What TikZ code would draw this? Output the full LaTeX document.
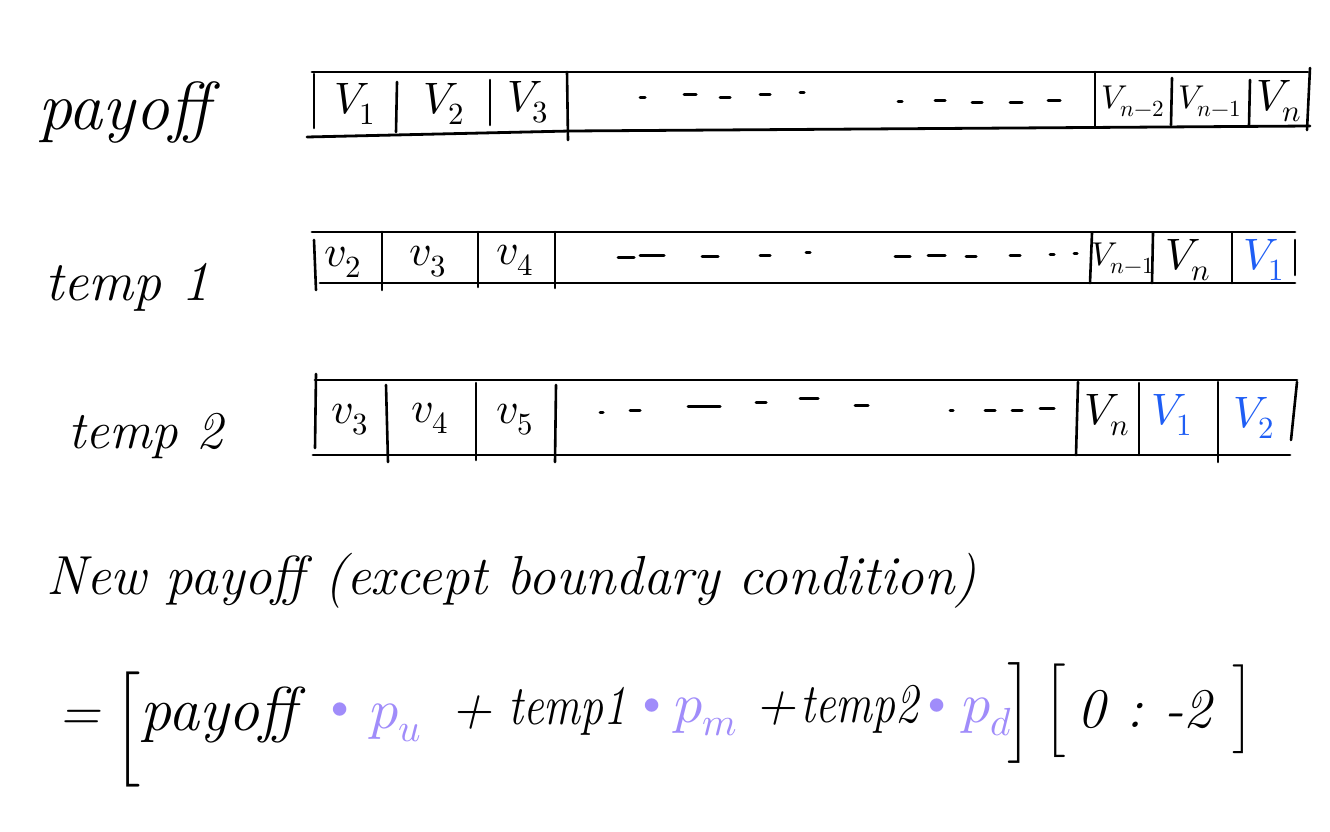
\documentclass[tikz,border=0pt]{standalone}
\usepackage{fontspec}
\usepackage{unicode-math}
\definecolor{vblue}{HTML}{1F5EF5}
\definecolor{ppl}{HTML}{A08CFA}
\tikzset{
  frame/.style={line width=2.8pt, line cap=round, line join=round},
  sep/.style={line width=2.6pt, line cap=round},
  dsh/.style={line width=3pt, line cap=round},
  cell/.style={font=\fontsize{44}{50}\selectfont, inner sep=0pt},
  cellsm/.style={font=\fontsize{33}{40}\selectfont, inner sep=0pt},
  lab/.style={font=\fontsize{58}{66}\selectfont\itshape, anchor=base west, inner sep=0pt},
  eqt/.style={font=\fontsize{56}{60}\selectfont\itshape, anchor=base west, inner sep=0pt},
  brk/.style={anchor=center, inner sep=0pt},
  dotp/.style={font=\fontsize{60}{60}\selectfont, text=ppl, anchor=center, inner sep=0pt},
}
\begin{document}
\begin{tikzpicture}[x=1pt,y=-1pt]
\useasboundingbox (0,0) rectangle (1330,832);
\fill[white] (0,0) rectangle (1330,832);

% ---------- left labels ----------
\node[lab, font=\fontsize{68}{72}\selectfont\itshape] (Lpay) at (38,130) {payoff};
\node[lab, font=\fontsize{56}{60}\selectfont\itshape] (Lt1) at (45,300) {temp 1};
\node[lab, font=\fontsize{53}{60}\selectfont\itshape] (Lt2) at (68,448) {temp 2};

% ---------- row 1 : payoff ----------
\draw[frame] (312,72) -- (1308,72);
\draw[frame] (307,137) -- (570,131) -- (1310,126);
\draw[sep] (314,74) -- (314,128);
\draw[sep] (397,82) -- (396,132);
\draw[sep] (490,80) -- (490,125);
\draw[sep] (567,72) -- (568,140);
\draw[sep] (1095,72) -- (1095,126);
\draw[sep] (1172,78) -- (1171,125);
\draw[sep] (1250,80) -- (1249,125);
\draw[sep] (1310,68) -- (1307,130);
\node[cell] (a1) at (355,104) {$V_1$};
\node[cell] (a2) at (444,104) {$V_2$};
\node[cell] (a3) at (528,102) {$V_3$};
\node[cellsm] (a4) at (1133,101) {$V_{n-2}$};
\node[cellsm] (a5) at (1210,101) {$V_{n-1}$};
\node[cell] (a6) at (1279,101) {$V_n$};
\foreach \a/\b/\y in {640/645/98, 684/696/95, 720/730/98, 760/770/95, 800/804/93,
                      898/902/102, 935/945/101, 972/982/103, 1010/1022/103, 1048/1060/101}
  \draw[dsh] (\a,\y) -- (\b,\y);

% ---------- row 2 : temp 1 ----------
\draw[frame] (312,232) -- (1295,232);
\draw[frame] (320,283) -- (1295,283);
\draw[sep] (314,240) -- (316,290);
\draw[sep] (382,232) -- (382,290);
\draw[sep] (478,232) -- (478,287);
\draw[sep] (555,232) -- (555,288);
\draw[sep] (1092,233) -- (1090,283);
\draw[sep] (1153,233) -- (1152,283);
\draw[sep] (1232,233) -- (1232,283);
\draw[sep] (1295,240) -- (1295,275);
\node[cell] (b1) at (343,262) {$v_2$};
\node[cell] (b2) at (428,262) {$v_3$};
\node[cell] (b3) at (515,260) {$v_4$};
\node[cellsm] (b4) at (1123,258) {$V_{n-1}$};
\node[cell] (b5) at (1188,260) {$V_n$};
\node[cell, text=vblue] (b6) at (1264,260) {$V_1$};
\foreach \a/\b/\y in {618/634/257, 640/664/255, 702/718/256, 760/770/255, 806/810/252,
                      895/910/256, 928/945/255, 966/976/256, 1010/1020/255, 1050/1054/254, 1074/1077/253}
  \draw[dsh] (\a,\y) -- (\b,\y);

% ---------- row 3 : temp 2 ----------
\draw[frame] (315,380) -- (1297,380);
\draw[frame] (313,455) -- (1290,455);
\draw[sep] (316,374) -- (315,448);
\draw[sep] (386,385) -- (388,462);
\draw[sep] (476,383) -- (476,460);
\draw[sep] (556,385) -- (555,462);
\draw[sep] (1078,382) -- (1076,455);
\draw[sep] (1139,383) -- (1139,455);
\draw[sep] (1218,382) -- (1218,462);
\draw[sep] (1297,382) -- (1291,440);
\node[cell] (c1) at (350,420) {$v_3$};
\node[cell] (c2) at (430,418) {$v_4$};
\node[cell] (c3) at (515,420) {$v_5$};
\node[cell] (c4) at (1107,415) {$V_n$};
\node[cell, text=vblue] (c5) at (1172,415) {$V_1$};
\node[cell, text=vblue] (c6) at (1254,418) {$V_2$};
\foreach \a/\b/\y in {600/603/412, 630/640/410, 688/720/406, 756/766/402, 800/818/398, 855/868/405,
                      950/953/410, 985/995/410, 1012/1022/410, 1040/1054/408}
  \draw[dsh] (\a,\y) -- (\b,\y);

% ---------- bottom text ----------
\node[lab, font=\fontsize{55}{60}\selectfont\itshape] (nw) at (46,594) {New payoff (except boundary condition)};

\node[eqt] (e1) at (58,730) {=};
\node[brk] (e2) at (128,729) {\fontsize{48}{48}\selectfont$\bigg[$};
\node[eqt, font=\fontsize{62}{66}\selectfont\itshape] (e3) at (140,730) {payoff};
\node[dotp] (e4) at (340,714) {\textbullet};
\node[eqt, text=ppl] (e5) at (370,728) {$p_u$};
\node[eqt] (e6) at (450,726) {+};
\node[eqt] (e7) at (508,724) {\scalebox{0.82}[1]{temp1}};
\node[dotp] (e8) at (652,710) {\textbullet};
\node[eqt, text=ppl] (e9) at (674,722) {$p_m$};
\node[eqt] (e10) at (754,722) {+};
\node[eqt] (e11) at (800,722) {\scalebox{0.82}[1]{temp2}};
\node[dotp] (e12) at (937,710) {\textbullet};
\node[eqt, text=ppl] (e13) at (962,722) {$p_d$};
\node[brk] (e14) at (1019,713) {\fontsize{42}{42}\selectfont$\bigg]$};
\node[brk] (e15) at (1056,711) {\fontsize{39}{39}\selectfont$\bigg[$};
\node[eqt] (e16) at (1077,727) {0};
\node[eqt] (e17) at (1126,727) {:};
\node[eqt] (e18) at (1164,727) {-2};
\node[brk] (e19) at (1242,709) {\fontsize{37}{37}\selectfont$\bigg]$};
\end{tikzpicture}
\end{document}
